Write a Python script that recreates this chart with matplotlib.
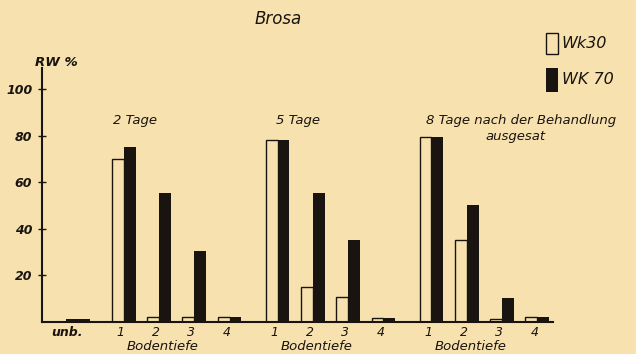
import matplotlib
matplotlib.use("Agg")
import matplotlib.pyplot as plt
from matplotlib.patches import Rectangle

PAPER = "#f7e2af"
INK = "#1a1410"

# Rückstandswerte (RW %) je Bodentiefe und Aussaattermin
GROUPS = ["2 Tage", "5 Tage", "8 Tage nach der Behandlung"]
SUBTITLE = "ausgesat"
DEPTHS = ["1", "2", "3", "4"]
WK30 = [[70, 2.2, 2.1, 2.2], [78, 15, 10.7, 1.7], [79.5, 35, 1.5, 2.0]]
WK70 = [[75, 55.5, 30.5, 2.0], [78, 55.5, 35, 1.7], [79.5, 50, 10.3, 2.0]]
UNB_LABEL = "unb."
UNB = 1.5
YTICKS = [20, 40, 60, 80, 100]

# layout: one depth step = 1 x unit
W = 0.335
GROUP_X0 = 1.98
GROUP_STEP = 4.36
TITLE_DX = [0.03, 0.29, 0.17]
UNB_X = 0.68

fig = plt.figure(figsize=(6.36, 3.54), dpi=100, facecolor=PAPER)
ax = fig.add_axes([42 / 636, 32 / 354, 511 / 636, 254 / 354])
ax.set_facecolor(PAPER)
ax.set_xlim(0, 14.48)
ax.set_ylim(0, 109)

for s in ("top", "right"):
    ax.spines[s].set_visible(False)
for s in ("left", "bottom"):
    ax.spines[s].set_color(INK)
    ax.spines[s].set_linewidth(1.5)
    ax.spines[s].set_zorder(5)

ax.set_xticks([])
ax.set_yticks(YTICKS)
ax.set_yticklabels([str(v) for v in YTICKS], fontsize=9, fontstyle="italic",
                   fontweight="bold", color=INK)
ax.tick_params(axis="y", direction="inout", length=6, width=1, color=INK, pad=4)

txt = dict(color=INK, fontstyle="italic", clip_on=False)

# untreated control
ax.bar(UNB_X, UNB, width=2 * W, align="edge", color=INK, lw=0)
ax.text(UNB_X + 0.03, -4.7, UNB_LABEL, ha="center", va="center", fontsize=9,
        fontweight="bold", **txt)

for g, title in enumerate(GROUPS):
    x0 = GROUP_X0 + g * GROUP_STEP
    for d, lab in enumerate(DEPTHS):
        left = x0 + d
        ax.bar(left, WK30[g][d], width=W, align="edge", facecolor=PAPER,
               edgecolor=INK, lw=1.0)
        ax.bar(left + W, WK70[g][d], width=W, align="edge", color=INK, lw=0)
        ax.text(left + W - 0.08, -4.7, lab, ha="center", va="center",
                fontsize=9, **txt)
    ax.text(x0 + 1.45, -10.6, "Bodentiefe", ha="center", va="center",
            fontsize=9.5, **txt)
    ax.text(x0 + TITLE_DX[g], 86.3, title, ha="left", va="center",
            fontsize=9.5, **txt)
ax.text(GROUP_X0 + 2 * GROUP_STEP + 2.72, 79.5, SUBTITLE, ha="center",
        va="center", fontsize=9.5, **txt)

# titles
fig.text(278 / 636, 1 - 19 / 354, "Brosa", ha="center", va="center",
         fontsize=12, fontstyle="italic", color=INK)
fig.text(35 / 636, 1 - 62 / 354, "RW %", ha="left", va="center",
         fontsize=9.5, fontstyle="italic", fontweight="bold", color=INK)

# legend
fig.add_artist(Rectangle((546 / 636, 1 - 54 / 354), 12 / 636, 21 / 354,
                         transform=fig.transFigure, facecolor=PAPER,
                         edgecolor=INK, lw=1.0))
fig.add_artist(Rectangle((546 / 636, 1 - 92 / 354), 12 / 636, 24 / 354,
                         transform=fig.transFigure, facecolor=INK, lw=0))
fig.text(561 / 636, 1 - 43 / 354, "Wk30", ha="left", va="center",
         fontsize=11.5, fontstyle="italic", color=INK)
fig.text(562 / 636, 1 - 80 / 354, "WK 70", ha="left", va="center",
         fontsize=11.5, fontstyle="italic", color=INK)

fig.savefig("out.png", dpi=100, facecolor=PAPER)
